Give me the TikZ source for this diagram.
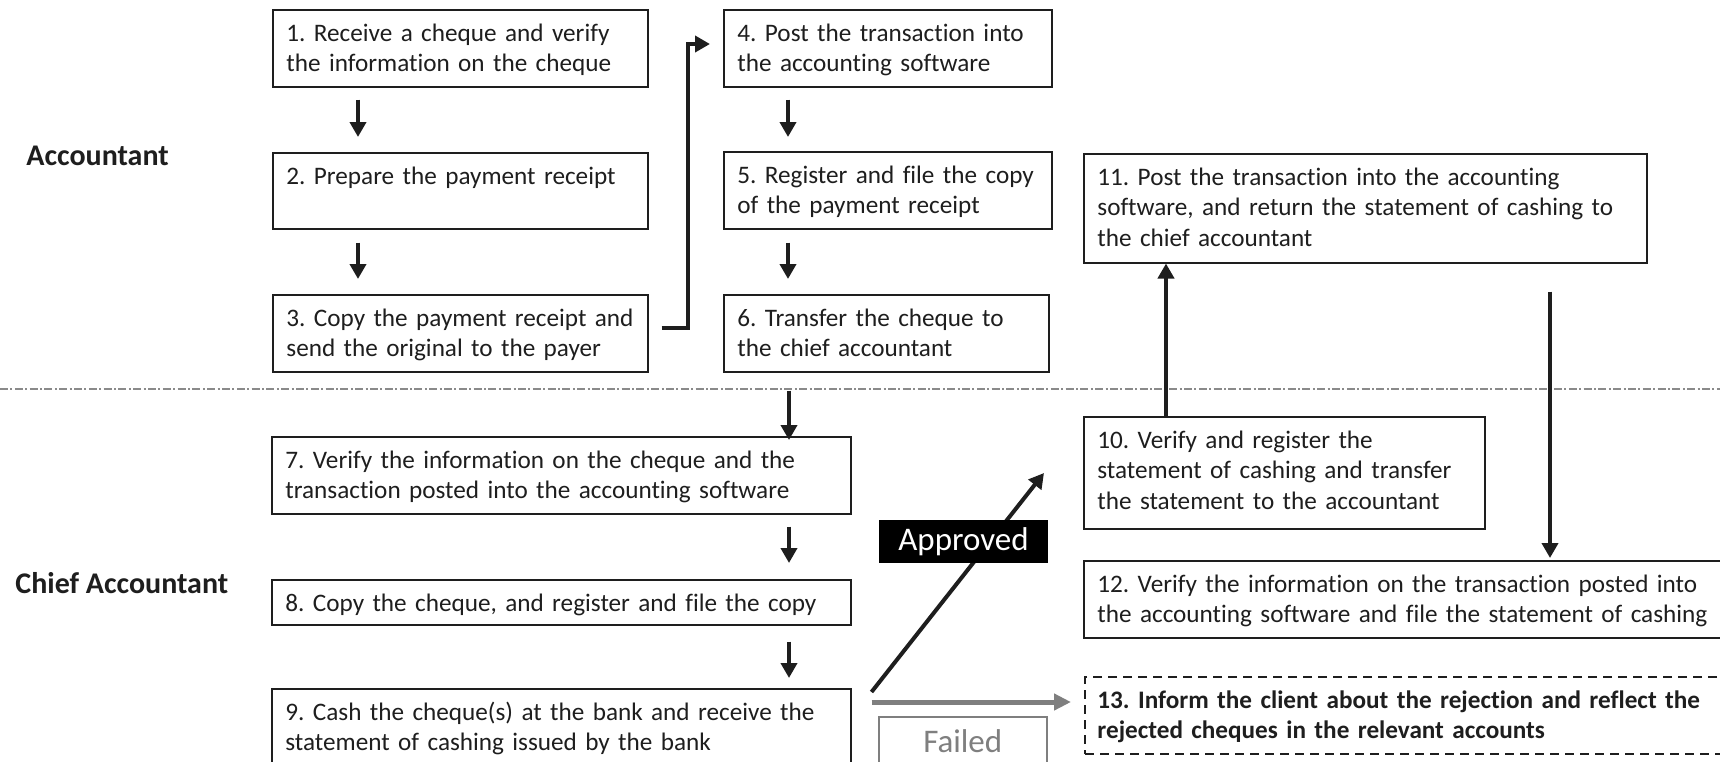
\documentclass[tikz,border=0pt]{standalone}
\usepackage{fontspec}
\setmainfont{Carlito}[Ligatures=NoCommon]
\usetikzlibrary{arrows.meta,calc}
\definecolor{ink}{HTML}{1E1E1E}
\definecolor{failgray}{HTML}{7F7F7F}
\definecolor{sepgray}{HTML}{8A8A8A}
\frenchspacing

\begin{document}
\begin{tikzpicture}[x=0.5pt,y=-0.5pt,
  box/.style={draw=ink, line width=0.75pt, inner sep=0pt, anchor=north west, fill=white},
  txt/.style={anchor=base west, inner sep=0pt, align=left, text=ink,
              font=\fontsize{12.6}{15.4}\selectfont},
  lane/.style={anchor=west, inner sep=0pt, text=ink, font=\fontsize{15}{17}\selectfont\bfseries},
  flow/.style={draw=ink, line width=2pt, line join=miter,
               -{Triangle[length=7.5pt,width=8pt]}},
  failflow/.style={draw=failgray, line width=2.5pt,
               -{Triangle[length=8.5pt,width=8pt]}},
  sep/.style={draw=sepgray, line width=0.75pt,
              dash pattern=on 4pt off 1.2pt on 1pt off 1.2pt},
]
\useasboundingbox (0,0) rectangle (1720,761);
\clip (0,0) rectangle (1720,761);
\fill[white] (0,0) rectangle (1720,761);

% swimlane separator
\draw[sep] (0,389) -- (1720,389);

% lane titles
\node[lane] (acc) at (26,156) {Accountant};
\node[lane] (chief) at (15,583) {Chief Accountant};

% accountant steps
\node[box, minimum width=187.5pt, minimum height=38.5pt] (b1) at (272,9) {};
\node[box, minimum width=187.5pt, minimum height=38pt] (b2) at (272,152) {};
\node[box, minimum width=187.5pt, minimum height=38.5pt] (b3) at (272,294) {};
\node[box, minimum width=164pt, minimum height=38.5pt] (b4) at (723,9) {};
\node[box, minimum width=164pt, minimum height=38.5pt] (b5) at (723,151) {};
\node[box, minimum width=162.5pt, minimum height=38.5pt] (b6) at (723,294) {};
\node[box, minimum width=281.5pt, minimum height=54.5pt] (b11) at (1083,153) {};

% chief accountant steps
\node[box, minimum width=289.5pt, minimum height=38.5pt] (b7) at (271,436) {};
\node[box, minimum width=289.5pt, minimum height=22.5pt] (b8) at (271,579) {};
\node[box, minimum width=289.5pt, minimum height=50pt] (b9) at (271,688) {};
\node[box, minimum width=200.5pt, minimum height=56pt] (b10) at (1083,416) {};
\node[box, minimum width=330pt, minimum height=38.5pt] (b12) at (1083,560) {};
\node[box, draw=ink, line width=1pt, dash pattern=on 4.5pt off 3pt,
      minimum width=330pt, minimum height=38.5pt] (b13) at (1084,676) {};

% step texts
\node[txt, text width=180pt] (t1) at ($(b1.north west)+(14,32)$)
  {1. Receive a cheque and verify\\the information on the cheque};
\node[txt, text width=180pt] (t2) at ($(b2.north west)+(14,32)$)
  {2. Prepare the payment receipt};
\node[txt, text width=180pt] (t3) at ($(b3.north west)+(14,32)$)
  {3. Copy the payment receipt and\\send the original to the payer};
\node[txt, text width=157pt] (t4) at ($(b4.north west)+(14,32)$)
  {4. Post the transaction into\\the accounting software};
\node[txt, text width=157pt] (t5) at ($(b5.north west)+(14,32)$)
  {5. Register and file the copy\\of the payment receipt};
\node[txt, text width=155pt] (t6) at ($(b6.north west)+(14,32)$)
  {6. Transfer the cheque to\\the chief accountant};
\node[txt, text width=280pt] (t7) at ($(b7.north west)+(14,32)$)
  {7. Verify the information on the cheque and the\\transaction posted into the accounting software};
\node[txt, text width=280pt] (t8) at ($(b8.north west)+(14,32)$)
  {8. Copy the cheque, and register and file the copy};
\node[txt, text width=280pt] (t9) at ($(b9.north west)+(14,32)$)
  {9. Cash the cheque(s) at the bank and receive the\\statement of cashing issued by the bank};
\node[txt, text width=193pt] (t10) at ($(b10.north west)+(14,32)$)
  {10. Verify and register the\\statement of cashing and transfer\\the statement to the accountant};
\node[txt, text width=274pt] (t11) at ($(b11.north west)+(14,32)$)
  {11. Post the transaction into the accounting\\software, and return the statement of cashing to\\the chief accountant};
\node[txt, text width=320pt] (t12) at ($(b12.north west)+(14,32)$)
  {12. Verify the information on the transaction posted into\\the accounting software and file the statement of cashing};
\node[txt, text width=320pt, font=\fontsize{12.6}{15.4}\selectfont\bfseries] (t13) at ($(b13.north west)+(13,32)$)
  {13. Inform the client about the rejection and reflect the\\rejected cheques in the relevant accounts};

% flow between steps
\draw[flow] ($(b1.south west)+(86,12)$) -- ($(b2.north west)+(86,-15)$);
\draw[flow] ($(b2.south west)+(86,13)$) -- ($(b3.north west)+(86,-15)$);
\draw[flow] ($(b3.north east)+(13,34)$) -- ++(26,0) |- ($(b4.north west)+(-13,35)$);
\draw[flow] ($(b4.south west)+(65,12)$) -- ($(b5.north west)+(65,-14)$);
\draw[flow] ($(b5.south west)+(65,13)$) -- ($(b6.north west)+(65,-15)$);
\draw[flow] ($(b6.south west)+(66,18)$) -- ($(b7.north west)+(518,4)$);
\draw[flow] ($(b7.south west)+(518,12)$) -- ($(b8.north west)+(518,-16)$);
\draw[flow] ($(b8.south west)+(518,16)$) -- ($(b9.north west)+(518,-10)$);
\draw[flow] ($(b10.north west)+(83,0)$) -- ($(b11.south west)+(83,0)$);
\draw[flow] ($(b11.south west)+(467,28)$) -- ($(b12.north west)+(467,-2)$);

% outcome of cashing
\draw[flow] ($(b9.north east)+(20,4)$) -- ($(b10.north west)+(-39,57)$);
\draw[failflow] ($(b9.north east)+(20,14)$) -- ($(b13.north west)+(-13,26)$);

\node[fill=black, inner sep=0pt, minimum width=84.5pt, minimum height=21.5pt,
      text=white, font=\fontsize{16.5}{18}\selectfont] (ok) at (963.5,541.5) {Approved};
\node[box, draw=failgray, minimum width=84pt, minimum height=45pt] (fail) at (878,716) {};
\node[anchor=base, inner sep=0pt, text=failgray, font=\fontsize{16.5}{18}\selectfont]
  (failtxt) at ($(fail.north)+(0,36)$) {Failed};
\end{tikzpicture}
\end{document}
